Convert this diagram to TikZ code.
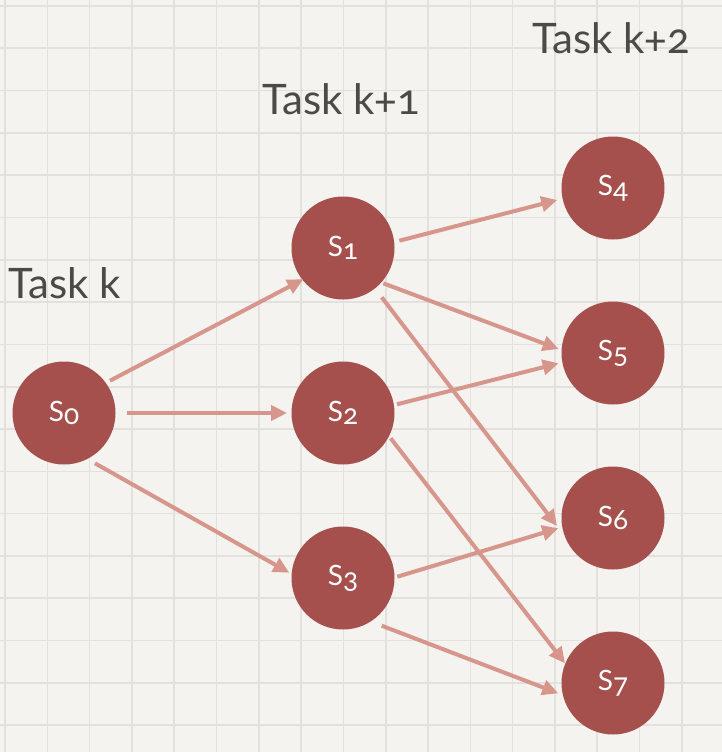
\documentclass[tikz,border=0pt]{standalone}
\usepackage{fontspec}
\setmainfont{Lato}[Numbers=OldStyle]
\usetikzlibrary{arrows.meta}
\definecolor{bgc}{HTML}{F4F3F0}
\definecolor{gridc}{HTML}{E3E1DD}
\definecolor{nodec}{HTML}{A5504C}
\definecolor{arrowc}{HTML}{D6968C}
\definecolor{textc}{HTML}{4A4A46}
\tikzset{
  state/.style={circle, fill=nodec, minimum size=103pt, inner sep=0pt, text=white,
    font=\fontsize{28}{28}\selectfont},
  arr/.style={draw=arrowc, line width=4pt, -{Triangle[length=16pt,width=15pt]}},
  gridline/.style={draw=gridc, line width=1.6pt},
  tasklbl/.style={anchor=base, text=textc, font=\fontsize{42}{42}\selectfont, inner sep=0pt}
}
\newcommand{\stlabel}[1]{S\raisebox{-3pt}{#1}}
\begin{document}
\begin{tikzpicture}[x=1pt,y=-1pt]
\fill[bgc] (0,0) rectangle (722,752);
\useasboundingbox (0,0) rectangle (722,752);
\foreach \i in {0,...,17} \draw[gridline] (5+42.3*\i,0) -- (5+42.3*\i,752);
\foreach \j in {0,...,17} \draw[gridline] (0,6+42.3*\j) -- (722,6+42.3*\j);

\node[tasklbl] (tk)  at (65,298) {Task k};
\node[tasklbl] (tk1) at (341,114) {Task k+1};
\node[tasklbl] (tk2) at (611,54) {Task k+2};

\node[state] (s0) at (64,413) {\stlabel{0}};
\node[state] (s1) at (343,248) {\stlabel{1}};
\node[state] (s2) at (343,413) {\stlabel{2}};
\node[state] (s3) at (343,578) {\stlabel{3}};
\node[state] (s4) at (613,188) {\stlabel{4}};
\node[state] (s5) at (613,353) {\stlabel{5}};
\node[state] (s6) at (613,518) {\stlabel{6}};
\node[state] (s7) at (613,683) {\stlabel{7}};

\draw[arr] ([shift={(46,-32.3)}]s0.center) -- ([shift={(-39.7,31.3)}]s1.center);
\draw[arr] ([shift={(63,0)}]s0.center) -- ([shift={(-56,0)}]s2.center);
\draw[arr] ([shift={(31,50.3)}]s0.center) -- ([shift={(-53.7,-5.3)}]s3.center);

\draw[arr] ([shift={(56.3,-7.3)}]s1.center) -- ([shift={(-55.7,12)}]s4.center);
\draw[arr] ([shift={(40.3,35.3)}]s1.center) -- ([shift={(-54.3,-4)}]s5.center);
\draw[arr] ([shift={(38.7,49.3)}]s1.center) -- ([shift={(-56,8)}]s6.center);

\draw[arr] ([shift={(54,-8.7)}]s2.center) -- ([shift={(-54.3,10.3)}]s5.center);
\draw[arr] ([shift={(47.7,25.3)}]s2.center) -- ([shift={(-48,-19.7)}]s7.center);

\draw[arr] ([shift={(54.3,-1.3)}]s3.center) -- ([shift={(-54.7,10.3)}]s6.center);
\draw[arr] ([shift={(38.7,47.7)}]s3.center) -- ([shift={(-54.7,10.3)}]s7.center);
\end{tikzpicture}
\end{document}
